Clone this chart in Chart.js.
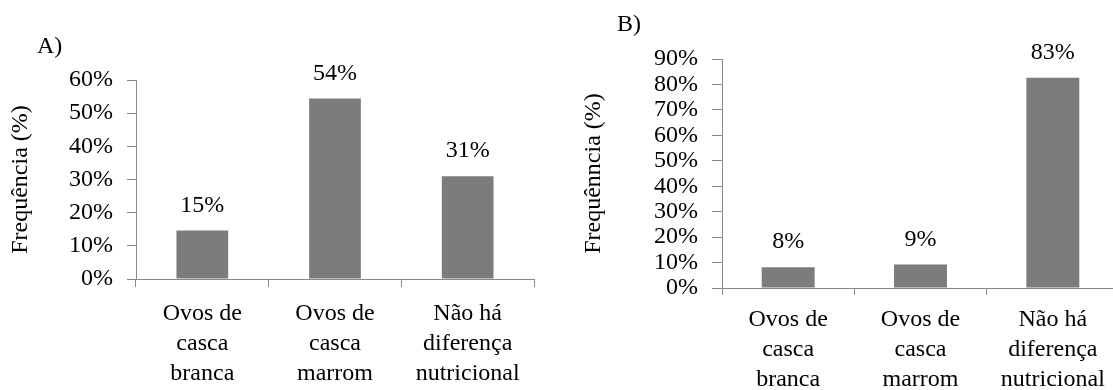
<!DOCTYPE html>
<html>
<head>
<meta charset="utf-8">
<script src="https://cdn.jsdelivr.net/npm/chart.js@4.4.1/dist/chart.umd.min.js"></script>
<style>
html, body { margin: 0; padding: 0; background: #fff; width: 1113px; height: 390px; overflow: hidden; }
#wrap { position: relative; width: 1113px; height: 390px; overflow: hidden; background: #fff; }
canvas { position: absolute; top: 0; }
#cA { left: 0; }
#cB { left: 550px; }
.panel { position: absolute; font-family: "Liberation Serif", "Times New Roman", serif; font-size: 24px; line-height: 24px; color: #000; }
</style>
</head>
<body>
<div id="wrap">
  <canvas id="cA" width="550" height="390"></canvas>
  <canvas id="cB" width="572" height="390"></canvas>
  <div class="panel" style="left:37px; top:33px;">A)</div>
  <div class="panel" style="left:617px; top:11px;">B)</div>
</div>
<script>
// ---- data ----
const categories = [
  ['Ovos de', 'casca', 'branca'],
  ['Ovos de', 'casca', 'marrom'],
  ['Não há', 'diferença', 'nutricional']
];
const valuesA = [14.6, 54.4, 31.0];
const valuesB = [8.2, 9.2, 82.6];
const yMaxA = 60;
const yMaxB = 90;
const yStep = 10;
const titleA = 'Frequência (%)';
const titleB = 'Frequênncia (%)';

// ---- style ----
const FONT = '"Liberation Serif", "Times New Roman", serif';
const AXIS = '#8a8a8a';
const BAR = '#7c7c7c';
Chart.defaults.font.family = FONT;
Chart.defaults.font.size = 24;
Chart.defaults.color = '#000';

const valueLabels = {
  id: 'valueLabels',
  afterDatasetsDraw(chart, args, opts) {
    const ctx = chart.ctx;
    const meta = chart.getDatasetMeta(0);
    const data = chart.data.datasets[0].data;
    ctx.save();
    ctx.font = '24px ' + FONT;
    ctx.fillStyle = '#000';
    ctx.textAlign = 'center';
    ctx.textBaseline = 'alphabetic';
    meta.data.forEach((bar, i) => {
      ctx.fillText(Math.round(data[i]) + '%', bar.x, bar.y - opts.gap);
    });
    ctx.restore();
  }
};

function makeChart(id, values, yMax, title, g) {
  return new Chart(document.getElementById(id), {
    type: 'bar',
    data: {
      labels: categories,
      datasets: [{
        data: values,
        backgroundColor: BAR,
        borderWidth: 0,
        categoryPercentage: 1,
        barPercentage: g.barPct
      }]
    },
    options: {
      responsive: false,
      animation: false,
      devicePixelRatio: 1,
      layout: { padding: { left: 0, top: g.top, right: g.right, bottom: 0 } },
      plugins: {
        legend: { display: false },
        tooltip: { enabled: false },
        valueLabels: { gap: 19 }
      },
      scales: {
        x: {
          offset: true,
          afterFit: s => { s.height = g.xHeight; },
          grid: { display: true, offset: true, drawOnChartArea: false, drawTicks: true, tickLength: g.xTick, color: AXIS, lineWidth: 1 },
          border: { display: true, color: AXIS, width: 1 },
          ticks: { autoSkip: false, maxRotation: 0, minRotation: 0, padding: g.xPad, color: '#000',
                   font: { family: FONT, size: 24, lineHeight: '30px' } }
        },
        y: {
          min: 0,
          max: yMax,
          afterFit: s => { s.width = g.yWidth; },
          grid: { display: true, drawOnChartArea: false, drawTicks: true, tickLength: g.yTick, color: AXIS, lineWidth: 1 },
          border: { display: true, color: AXIS, width: 1 },
          ticks: { stepSize: yStep, autoSkip: false, padding: 14, color: '#000',
                   font: { family: FONT, size: 24 },
                   callback: v => v + '%' },
          title: { display: true, text: title, color: '#000',
                   font: { family: FONT, size: 24, lineHeight: 1.2 },
                   padding: { top: g.titlePad, bottom: 0 } }
        }
      }
    },
    plugins: [valueLabels]
  });
}

makeChart('cA', valuesA, yMaxA, titleA, {
  top: 80, right: 16, yWidth: 136, xHeight: 111,
  xTick: 8, yTick: 9, xPad: 12, titlePad: 6, barPct: 0.39
});
makeChart('cB', valuesB, yMaxB, titleB, {
  top: 59, right: 3, yWidth: 172, xHeight: 102,
  xTick: 7, yTick: 10, xPad: 10, titlePad: 29, barPct: 0.4
});
</script>
</body>
</html>
